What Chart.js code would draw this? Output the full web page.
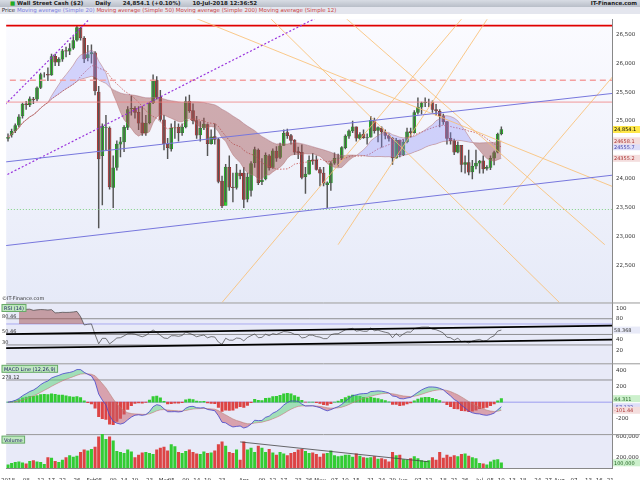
<!DOCTYPE html>
<html>
<head>
<meta charset="utf-8">
<script src="https://cdn.jsdelivr.net/npm/chart.js@4.4.1/dist/chart.umd.min.js"></script>
<style>
  body { margin: 0; width: 640px; height: 480px; overflow: hidden; background: #fff; font-family: "DejaVu Sans", sans-serif; }
  #hdr1 { position: absolute; left: 0; top: 0; width: 640px; height: 7px; background: linear-gradient(#d8dce4, #b8bec8); font-size: 5.5px; font-weight: bold; line-height: 7px; color: #222; }
  #hdr1 span { margin-left: 10px; }
  #hdr1 .r { position: absolute; right: 3px; top: 0; }
  #hdr2 { position: absolute; left: 0; top: 7px; width: 640px; height: 7px; background: #e4e6ee; font-size: 5.5px; line-height: 7px; color: #333; }
  #wrap { position: absolute; left: 0; top: 14px; width: 640px; height: 466px; }
</style>
</head>
<body>
<div id="hdr1"><span style="color:#2a2">&#9632;</span> Wall Street Cash ($2) <span>Daily</span> <span>24,854.1 (+0.10%)</span> <span>10-Jul-2018 12:36:52</span><div class="r">IT-Finance.com</div></div>
<div id="hdr2">&nbsp;Price <span style="color:#7a7ae0">Moving average (Simple 20)</span> <span style="color:#c44">Moving average (Simple 50)</span> <span style="color:#c44">Moving average (Simple 200)</span> <span style="color:#c44">Moving average (Simple 12)</span></div>
<div id="wrap"><canvas id="chart" width="640" height="466"></canvas></div>
<script>
// ------------------------------------------------------------
// DATA (one value per trading day)
// ------------------------------------------------------------
const opens = [
  24700,24760,24830,24930,25090,25300,25280,25380,25380,25580,25800,25810,25800,26120,26020,26070,26220,26210,26260,26400,26610,26430,26090,
  26160,26180,25500,24400,24890,24880,23850,24200,24600,24640,24890,25210,25220,25150,24970,24800,24970,25320,25710,25410,
  25020,24600,24520,24880,24890,24800,24900,25340,25180,25010,24760,24880,24940,24610,24730,24680,23960,23540,24200,23860,23850,24100,
  24100,23650,23800,24280,24500,23950,24000,24400,24200,24480,24370,24580,24800,24750,24670,24470,24460,24040,24080,24330,24320,
  24160,24100,23900,23930,24270,24360,24360,24540,24740,24830,24900,24700,24770,24710,24720,25010,24840,24880,24810,24750,24700,24360,24670,
  24420,24640,24820,24800,25150,25240,25320,25320,25320,25200,25170,25090,24990,24700,24660,24460,24580,24250,24280,24120,24220,
  24270,24310,24180,24200,24360,24460,24780
];
const highs = [
  24780,24860,24950,25110,25310,25340,25420,25410,25590,25830,25840,25920,26160,26160,26100,26240,26280,26340,26460,26650,26620,26460,26310,
  26320,26200,25600,24950,25100,24900,24400,24660,24720,24920,25250,25430,25250,25250,25250,25100,25330,25800,25770,25530,
  25100,24700,24950,25000,24950,24950,25420,25450,25300,25080,24990,25050,24950,24850,24950,24700,24050,24250,24400,24100,24250,24150,
  24200,24100,24300,24550,24520,24350,24450,24420,24520,24560,24620,24850,24860,24770,24680,24550,24590,24200,24400,24440,24400,
  24200,24200,23950,24300,24450,24430,24560,24760,24850,25000,24900,24800,24850,24780,25080,25050,24900,24900,24850,24780,24720,24700,24670,
  24680,24880,24880,25180,25400,25330,25400,25380,25350,25290,25200,25120,24990,24800,24690,24640,24580,24400,24500,24320,24500,
  24320,24400,24230,24400,24480,24790,24900
];
const lows = [
  24650,24720,24800,24900,25050,25200,25250,25300,25350,25560,25760,25700,25790,25960,25960,26030,26110,26150,26240,26380,26400,26010,26040,
  26000,25450,23150,23550,24500,23820,23500,24150,24380,24470,24850,25100,25050,24850,24750,24750,24950,25300,25380,25000,
  24500,24350,24480,24700,24650,24750,24880,25150,24950,24700,24650,24850,24400,24600,24600,23930,23500,23600,23800,23600,23820,24000,
  23500,23600,23700,24200,23900,23900,23980,24150,24180,24300,24350,24580,24700,24600,24420,24350,24000,23750,24080,24250,24150,
  23880,23880,23500,23800,24250,24220,24330,24520,24700,24800,24650,24680,24700,24600,24720,24790,24640,24550,24690,24650,24250,24360,24380,
  24400,24620,24720,24790,25120,25120,25250,25250,25150,25100,24900,24940,24600,24600,24420,24450,24120,24100,24070,24000,24170,
  24100,24100,24150,24160,24240,24450,24760
];
const closes = [
  24720,24824,24922,25075,25295,25283,25385,25369,25574,25803,25800,25792,26116,26017,26071,26214,26210,26252,26392,26616,26439,26076,26149,
  26186,25521,24346,24912,24893,23860,24191,24601,24640,24893,25200,25219,25150,24964,24798,24962,25310,25709,25410,25029,
  24608,24538,24874,24884,24801,24895,25336,25178,25007,24758,24873,24946,24610,24727,24683,23958,23533,24202,23857,23849,24103,24050,
  23644,24033,24264,24505,23933,23979,24408,24190,24483,24360,24573,24787,24748,24665,24463,24448,24024,24084,24322,24311,24163,
  24100,23925,23930,24263,24357,24361,24543,24740,24831,24899,24706,24768,24714,24715,25013,24834,24887,24812,24753,24700,24362,24668,24416,
  24635,24814,24799,25146,25241,25317,25322,25320,25201,25175,25090,24987,24700,24657,24461,24580,24252,24283,24117,24216,24271,
  24307,24174,24200,24356,24456,24776,24854
];
// volume in thousands
const volumes = [
  60,90,110,120,100,80,130,140,120,110,70,200,190,130,110,150,200,240,210,230,300,350,330,
  360,400,600,650,550,600,520,320,300,280,350,310,200,250,290,300,280,260,350,380,
  400,330,450,410,300,280,320,350,300,270,260,310,280,290,330,450,500,420,300,280,350,150,
  500,350,380,300,420,380,300,360,290,250,300,270,240,280,300,350,360,320,280,290,260,
  210,270,280,330,240,220,230,250,250,210,270,230,200,190,200,220,170,180,160,120,300,240,250,
  160,150,180,220,180,140,130,140,200,150,300,190,250,210,240,220,260,270,230,200,180,
  90,80,60,120,150,160,100
];

const mainTicks = [26500, 26000, 25500, 25000, 24000, 23500, 23000, 22500];
const rsiTicks = [100, 80, 40, 20];
const macdTicks = [400, 300, 200, 100, -200, -300];
const volTicks = [600000, 400000, 200000];
const tickDays = ["01-08","01-12","01-17","01-22","01-26","02-05","02-09","02-14","02-19","02-23",
  "03-05","03-09","03-14","03-19","03-23","04-09","04-12","04-17","04-23","04-26",
  "05-07","05-10","05-15","05-21","05-24","05-29","06-07","06-12","06-18","06-21","06-26",
  "07-05","07-10","07-13","07-18","07-24","07-27","08-07","08-13","08-16","08-21"];
const monthNames = ["2018","Feb","Mar","Apr","May","Jun","Jul","Aug"];

// drawn objects: [fromIndex, fromValue, toIndex, toValue]
const orangeLines = [[43,27000,175.7,23638],[68.7,27000,152,21862],[128.2,27000,59,21862],
  [89.1,27000,164.5,22862],[134.6,27000,91,22862],[175.7,26431,136.6,23552]];
const purpleLines = [[-3.1,25138,22.1,26741],[-3.1,23983,86.3,26827]];
const blueLines = [[-3.1,24276,167.3,25483],[-3.1,22828,167.3,24069]];
const levels = [[26650,"#e00000",[],1.6],[25707,"#f4a0a0",[6,4],1.4],[25328,"#f08080",[],0.8],[23470,"#6c6",[1,2],0.8]];
const rsiLines = [[-3.1,50.5,175.7,67.6],[-3.1,23.8,175.7,41]];
const volLines = [[64,500000,116,120000]];

// ------------------------------------------------------------
// LABELS (weekdays)
// ------------------------------------------------------------
const labels = [];
for (let d = new Date(Date.UTC(2018, 0, 1)); d <= new Date(Date.UTC(2018, 7, 21)); d.setUTCDate(d.getUTCDate() + 1)) {
  const wd = d.getUTCDay();
  if (wd !== 0 && wd !== 6) labels.push(d.toISOString().slice(0, 10));
}

// ------------------------------------------------------------
// INDICATORS
// ------------------------------------------------------------
function sma(arr, n) {
  return arr.map((v, i) => {
    const s = arr.slice(Math.max(0, i - n + 1), i + 1);
    return s.reduce((a, b) => a + b, 0) / s.length;
  });
}
function ema(arr, n) {
  const k = 2 / (n + 1);
  const out = [];
  arr.forEach((v, i) => out.push(i === 0 ? v : v * k + out[i - 1] * (1 - k)));
  return out;
}
function rsi(arr, n) {
  const out = [null];
  let g = 0, l = 0;
  for (let i = 1; i < arr.length; i++) {
    const ch = arr[i] - arr[i - 1];
    const up = Math.max(ch, 0), dn = Math.max(-ch, 0);
    if (i <= n) { g += up / n; l += dn / n; }
    else { g = (g * (n - 1) + up) / n; l = (l * (n - 1) + dn) / n; }
    out.push(i < 3 ? null : 100 - 100 / (1 + g / (l || 1e-9)));
  }
  return out;
}
const sma12 = sma(closes, 12);
const sma20 = sma(closes, 20);
const sma50 = sma(closes, 50);
const rsiVals = rsi(closes, 14);
const ema12 = ema(closes, 12), ema26 = ema(closes, 26);
const macdLine = ema12.map((v, i) => v - ema26[i]);
const signal = ema(macdLine, 9);
const hist = macdLine.map((v, i) => v - signal[i]);

const up = closes.map((c, i) => c >= opens[i]);
const bodyColor = up.map(u => u ? "#33cc33" : "#cc4b4b");
const bodyBorder = up.map(u => u ? "#177a17" : "#7a2020");

// ------------------------------------------------------------
// PLUGIN: panel backgrounds, drawn lines, captions
// ------------------------------------------------------------
const panels = {
  id: "panels",
  beforeDatasetsDraw(chart) {
    const { ctx, chartArea: a, scales } = chart;
    ctx.save();
    const m = scales.y;
    const g = ctx.createLinearGradient(0, m.top, 0, m.bottom);
    g.addColorStop(0, "#fbfbff"); g.addColorStop(1, "#e6eaf8");
    ctx.fillStyle = g; ctx.fillRect(a.left, m.top, a.right - a.left, m.bottom - m.top);
    ["rsi", "macd", "vol"].forEach(id => {
      const s = scales[id];
      ctx.fillStyle = "#e8eaf8"; ctx.fillRect(a.left, s.top, a.right - a.left, s.bottom - s.top);
      ctx.strokeStyle = "#999"; ctx.lineWidth = 1;
      ctx.beginPath(); ctx.moveTo(a.left, s.top + 0.5); ctx.lineTo(a.right + 30, s.top + 0.5); ctx.stroke();
    });
    // RSI reference lines
    const r = scales.rsi;
    [[80, "#777"], [50, "#777"], [30, "#777"], [70, "#9999ee"]].forEach(([v, c]) => {
      ctx.strokeStyle = c; ctx.lineWidth = 0.8;
      ctx.beginPath(); ctx.moveTo(a.left, r.getPixelForValue(v)); ctx.lineTo(a.right, r.getPixelForValue(v)); ctx.stroke();
    });
    const mc = scales.macd;
    ctx.strokeStyle = "#777";
    ctx.beginPath(); ctx.moveTo(a.left, mc.getPixelForValue(278)); ctx.lineTo(a.right, mc.getPixelForValue(278)); ctx.stroke();
    ctx.strokeStyle = "#8888ee";
    ctx.beginPath(); ctx.moveTo(a.left, mc.getPixelForValue(0)); ctx.lineTo(a.right, mc.getPixelForValue(0)); ctx.stroke();
    ctx.restore();
  },
  afterDatasetsDraw(chart) {
    const { ctx, chartArea: a, scales } = chart;
    const x = scales.x;
    function seg(s, lines, color, width, dash) {
      ctx.save();
      ctx.beginPath(); ctx.rect(a.left, s.top, a.right - a.left, s.bottom - s.top); ctx.clip();
      ctx.strokeStyle = color; ctx.lineWidth = width; ctx.setLineDash(dash);
      lines.forEach(([i1, v1, i2, v2]) => {
        ctx.beginPath();
        ctx.moveTo(x.getPixelForValue(i1), s.getPixelForValue(v1));
        ctx.lineTo(x.getPixelForValue(i2), s.getPixelForValue(v2));
        ctx.stroke();
      });
      ctx.restore();
    }
    const m = scales.y;
    levels.forEach(([v, c, d, w]) => seg(m, [[-5, v, 200, v]], c, w, d));
    seg(m, orangeLines, "rgba(250,190,110,0.9)", 0.9, []);
    seg(m, purpleLines, "#9933dd", 1.2, [2, 2]);
    seg(m, blueLines, "#7777dd", 1, []);
    seg(scales.rsi, rsiLines, "#000", 1.8, []);
    seg(scales.vol, volLines, "#444", 0.8, []);

    ctx.save();
    ctx.font = "5px 'DejaVu Sans'";
    ctx.fillStyle = "#333";
    ctx.fillText("\u00a9IT-Finance.com", 2, m.bottom - 2);
    function tag(s, txt, bg) {
      ctx.font = "5px 'DejaVu Sans'";
      const w = ctx.measureText(txt).width + 4;
      ctx.fillStyle = bg; ctx.fillRect(2, s.top + 2, w, 7);
      ctx.strokeStyle = "#6a6"; ctx.strokeRect(2, s.top + 2, w, 7);
      ctx.fillStyle = "#226"; ctx.fillText(txt, 4, s.top + 7.5);
    }
    tag(scales.rsi, "RSI (14)", "#bfe8bf");
    tag(scales.macd, "MACD Line (12,26,9)", "#bfe8bf");
    tag(scales.vol, "Volume", "#bfe8bf");
    ctx.fillStyle = "#333";
    const r = scales.rsi;
    ctx.fillText("80.46", 2, r.getPixelForValue(82)); ctx.fillText("50.46", 2, r.getPixelForValue(52)); ctx.fillText("30", 2, r.getPixelForValue(32));
    ctx.fillText("278.12", 2, scales.macd.getPixelForValue(290));

    function valueBox(s, v, txt, bg, fg) {
      const yp = s.getPixelForValue(v);
      ctx.fillStyle = bg; ctx.fillRect(a.right + 1, yp - 3.5, 27, 7);
      ctx.fillStyle = fg; ctx.fillText(txt, a.right + 2, yp + 2);
    }
    const n = closes.length - 1;
    valueBox(m, closes[n], "24,854.1", "#ffe84a", "#000");
    valueBox(m, sma12[n], sma12[n].toFixed(1), "#f4dede", "#a33");
    valueBox(m, sma20[n], sma20[n].toFixed(1), "#dedef8", "#44a");
    valueBox(m, sma50[n], sma50[n].toFixed(1), "#f4dede", "#a33");
    valueBox(r, rsiVals[n], rsiVals[n].toFixed(3), "#e8eaf8", "#333");
    valueBox(scales.macd, hist[n], hist[n].toFixed(3), "#ccf0cc", "#262");
    valueBox(scales.macd, macdLine[n], macdLine[n].toFixed(3), "#dedef8", "#44a");
    valueBox(scales.macd, signal[n], signal[n].toFixed(2), "#f4dede", "#a33");
    valueBox(scales.vol, volumes[n] * 1000, (volumes[n] * 1000).toLocaleString("en-US"), "#ccf0cc", "#262");
    ctx.restore();
  }
};

// ------------------------------------------------------------
// CHART
// ------------------------------------------------------------
function yAxis(weight, min, max, list, fmt) {
  return {
    type: "linear", position: "right", stack: "panes", stackWeight: weight, offset: false,
    min: min, max: max,
    afterBuildTicks: ax => { ax.ticks = list.map(v => ({ value: v })); },
    afterFit: ax => { ax.width = 28; },
    ticks: { font: { size: 5.5, family: "DejaVu Sans" }, color: "#333", padding: 2, callback: fmt },
    grid: { display: false, drawTicks: true, tickLength: 2 },
    border: { color: "#888" }
  };
}
const fmtNum = v => v.toLocaleString("en-US");

new Chart(document.getElementById("chart").getContext("2d"), {
  data: {
    labels: labels,
    datasets: [
      { type: "line", label: "SMA12", data: sma12, yAxisID: "y", borderColor: "rgba(180,110,110,0.8)", borderWidth: 0.6,
        pointRadius: 0, fill: { target: 1, above: "rgba(140,140,245,0.35)", below: "rgba(160,80,80,0.45)" } },
      { type: "line", label: "SMA50", data: sma50, yAxisID: "y", borderColor: "rgba(180,110,110,0.8)", borderWidth: 0.6, pointRadius: 0 },
      { type: "line", label: "SMA20", data: sma20, yAxisID: "y", borderColor: "#c65050", borderWidth: 0.8, borderDash: [1.5, 1.5], pointRadius: 0 },
      { type: "bar", label: "wick", data: lows.map((l, i) => [l, highs[i]]), yAxisID: "y", backgroundColor: "#555",
        barThickness: 0.8, grouped: false },
      { type: "bar", label: "body", data: opens.map((o, i) => [o, closes[i]]), yAxisID: "y", backgroundColor: bodyColor,
        borderColor: bodyBorder, borderWidth: 0.5, barThickness: 3, grouped: false, borderSkipped: false },
      { type: "line", label: "RSI", data: rsiVals, yAxisID: "rsi", borderColor: "#444", borderWidth: 0.7, pointRadius: 0,
        fill: { value: 70, above: "rgba(160,80,80,0.5)", below: "rgba(0,0,0,0)" } },
      { type: "line", label: "MACD", data: macdLine, yAxisID: "macd", borderColor: "#4444cc", borderWidth: 0.8, pointRadius: 0,
        fill: { target: 7, above: "rgba(90,210,120,0.5)", below: "rgba(200,90,100,0.5)" } },
      { type: "line", label: "Signal", data: signal, yAxisID: "macd", borderColor: "#cc7777", borderWidth: 0.6, pointRadius: 0 },
      { type: "bar", label: "Histogram", data: hist, yAxisID: "macd", grouped: false, barThickness: 2.4,
        backgroundColor: hist.map(v => v >= 0 ? "#33cc33" : "#dd4444") },
      { type: "bar", label: "Volume", data: volumes.map(v => v * 1000), yAxisID: "vol", grouped: false, barThickness: 2.4,
        backgroundColor: up.map(u => u ? "#33cc33" : "#dd4444") }
    ]
  },
  options: {
    responsive: false, animation: false,
    layout: { padding: { left: 0, right: 0, top: 0, bottom: 0 } },
    plugins: { legend: { display: false }, tooltip: { enabled: false } },
    scales: {
      x: {
        type: "category", offset: true,
        grid: { display: false }, border: { color: "#888" },
        afterFit: ax => { ax.height = 12; },
        ticks: {
          autoSkip: false, maxRotation: 0, padding: 1, color: "#333",
          font: { size: 5.5, family: "DejaVu Sans" },
          callback: (val, i) => {
            const lab = labels[i];
            const prev = labels[i - 1];
            const mo = +lab.slice(5, 7);
            if (!prev || prev.slice(5, 7) !== lab.slice(5, 7)) return monthNames[mo - 1];
            return tickDays.includes(lab.slice(5)) ? lab.slice(8) : "";
          }
        }
      },
      y: yAxis(284, 21862, 26760, mainTicks, fmtNum),
      rsi: yAxis(61, -5, 111, rsiTicks, v => v),
      macd: yAxis(71, -400, 487, macdTicks, v => v),
      vol: yAxis(34, 0, 650000, volTicks, fmtNum)
    }
  },
  plugins: [panels]
});
</script>
</body>
</html>
